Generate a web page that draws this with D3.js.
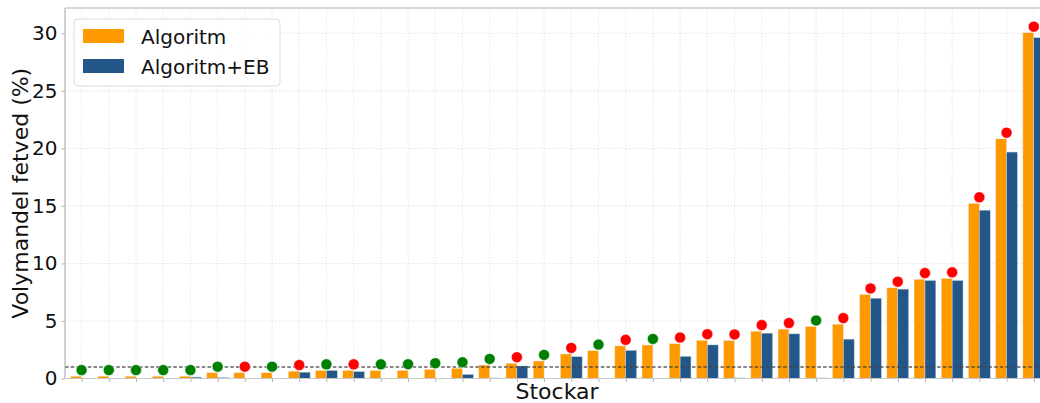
<!DOCTYPE html>
<html>
<head>
<meta charset="utf-8">
<script src="https://cdn.jsdelivr.net/npm/d3@7"></script>
<style>
  html, body { margin: 0; padding: 0; background: #fff; }
  svg { display: block; font-family: "DejaVu Sans", sans-serif; }
</style>
</head>
<body>
<svg id="chart" width="1040" height="403"></svg>
<script>
// Fat-volume share per log, sorted ascending
const stockar = d3.range(36).map(i => "S" + (i + 1));
const algoritm = [0.2, 0.2, 0.2, 0.2, 0.2, 0.5, 0.5, 0.5, 0.64, 0.7, 0.7, 0.7,
                  0.71, 0.8, 0.88, 1.17, 1.32, 1.52, 2.13, 2.42, 2.83, 2.91, 3.03, 3.32,
                  3.3, 4.11, 4.29, 4.52, 4.72, 7.3, 7.88, 8.63, 8.7, 15.22, 20.83, 30.05];
const algoritmEB = [0, 0, 0, 0, 0.12, 0.08, 0, 0, 0.55, 0.7, 0.6, 0,
                    0, 0, 0.36, 0.05, 1.09, 0, 1.9, 0, 2.45, 0, 1.93, 2.92,
                    0.05, 3.94, 3.88, 0.05, 3.42, 6.98, 7.77, 8.52, 8.52, 14.63, 19.68, 29.62];
// Marker state per log: g = within limit, r = above limit
const status = ["g", "g", "g", "g", "g", "g", "r", "g", "r", "g", "r", "g",
                "g", "g", "g", "g", "r", "g", "r", "g", "r", "g", "r", "r",
                "r", "r", "r", "g", "r", "r", "r", "r", "r", "r", "r", "r"];
const yTicks = [0, 5, 10, 15, 20, 25, 30];
const threshold = 1;
const markerOffset = 0.53;

const colors = { algoritm: "#ff9900", eb: "#235789", g: "#008000", r: "#ff0000" };

const svg = d3.select("#chart");
const plot = { left: 65, right: 1049, top: 8, bottom: 378.5 };

const x = d3.scaleLinear().domain([-0.61, 35.56]).range([plot.left, plot.right]);
const y = d3.scaleLinear().domain([0, 32.2]).range([plot.bottom, plot.top]);
const step = x(1) - x(0);
const barW = step * 0.4;

svg.append("clipPath").attr("id", "plotclip")
  .append("rect").attr("x", plot.left).attr("y", plot.top)
  .attr("width", plot.right - plot.left).attr("height", plot.bottom - plot.top);

const g = svg.append("g").attr("clip-path", "url(#plotclip)");

// grid
g.selectAll("line.vgrid").data(stockar).join("line")
  .attr("x1", (d, i) => x(i)).attr("x2", (d, i) => x(i))
  .attr("y1", plot.top).attr("y2", plot.bottom)
  .attr("stroke", "#e3e3e3").attr("stroke-width", 0.8).attr("stroke-dasharray", "2,1.5");
g.selectAll("line.hgrid").data(yTicks).join("line")
  .attr("x1", plot.left).attr("x2", plot.right)
  .attr("y1", d => y(d)).attr("y2", d => y(d))
  .attr("stroke", "#e3e3e3").attr("stroke-width", 0.8).attr("stroke-dasharray", "2,1.5");

// bars
g.selectAll("rect.alg").data(algoritm).join("rect")
  .attr("x", (d, i) => x(i) - barW).attr("width", barW)
  .attr("y", d => y(d)).attr("height", d => y(0) - y(d))
  .attr("fill", colors.algoritm).attr("stroke", "#f0e6d8").attr("stroke-width", 0.5);
g.selectAll("rect.eb").data(algoritmEB.map((v, i) => ({ v, i })).filter(d => d.v > 0)).join("rect")
  .attr("x", d => x(d.i)).attr("width", barW)
  .attr("y", d => y(d.v)).attr("height", d => y(0) - y(d.v))
  .attr("fill", colors.eb).attr("stroke", "#c9d3de").attr("stroke-width", 0.5);

// threshold line
g.append("line")
  .attr("x1", plot.left).attr("x2", plot.right)
  .attr("y1", y(threshold)).attr("y2", y(threshold))
  .attr("stroke", "#444").attr("stroke-opacity", 0.85).attr("stroke-width", 1.5)
  .attr("stroke-dasharray", "3.5,2.2");

// status markers
g.selectAll("circle.status").data(algoritm).join("circle")
  .attr("cx", (d, i) => x(i)).attr("cy", d => y(d + markerOffset))
  .attr("r", 5.5)
  .attr("fill", (d, i) => colors[status[i]])
  .attr("stroke", "#fff").attr("stroke-width", 0.5);

// spines
const spine = "#b3b3b3";
svg.append("line").attr("x1", plot.left).attr("x2", plot.left)
  .attr("y1", plot.top).attr("y2", plot.bottom).attr("stroke", spine).attr("stroke-width", 1.2);
svg.append("line").attr("x1", plot.left).attr("x2", plot.right)
  .attr("y1", plot.top).attr("y2", plot.top).attr("stroke", spine).attr("stroke-width", 1.2);
svg.append("line").attr("x1", plot.left).attr("x2", plot.right)
  .attr("y1", plot.bottom).attr("y2", plot.bottom).attr("stroke", "#c8c8c8").attr("stroke-width", 1);

// y axis
const yAxis = svg.append("g").attr("transform", `translate(${plot.left},0)`)
  .call(d3.axisLeft(y).tickValues(yTicks).tickSize(3.5).tickPadding(4));
yAxis.select(".domain").remove();
yAxis.selectAll(".tick line").attr("stroke", spine);
yAxis.selectAll(".tick text").attr("font-size", 20).attr("fill", "#111")
  .attr("font-family", "DejaVu Sans, sans-serif");

// x axis ticks only
const xAxis = svg.append("g").attr("transform", `translate(0,${plot.bottom})`)
  .call(d3.axisBottom(x).tickValues(d3.range(stockar.length)).tickSize(3.5).tickFormat(""));
xAxis.select(".domain").remove();
xAxis.selectAll(".tick line").attr("stroke", spine);

// axis titles
svg.append("text").attr("x", 557).attr("y", 399)
  .attr("text-anchor", "middle").attr("font-size", 22).attr("fill", "#111").text("Stockar");
svg.append("text").attr("transform", `translate(28,${(plot.top + plot.bottom) / 2}) rotate(-90)`)
  .attr("text-anchor", "middle").attr("font-size", 22).attr("fill", "#111").text("Volymandel fetved (%)");

// legend
const lg = svg.append("g").attr("transform", "translate(74,19)");
lg.append("rect").attr("width", 206).attr("height", 67).attr("rx", 4)
  .attr("fill", "#fff").attr("fill-opacity", 0.85).attr("stroke", "#dcdcdc");
const legendItems = [["Algoritm", colors.algoritm], ["Algoritm+EB", colors.eb]];
legendItems.forEach(([label, c], k) => {
  lg.append("rect").attr("x", 9).attr("y", 10 + k * 30).attr("width", 41).attr("height", 14)
    .attr("fill", c);
  lg.append("text").attr("x", 67).attr("y", 24.5 + k * 30)
    .attr("font-size", 20).attr("fill", "#111").text(label);
});
</script>
</body>
</html>
